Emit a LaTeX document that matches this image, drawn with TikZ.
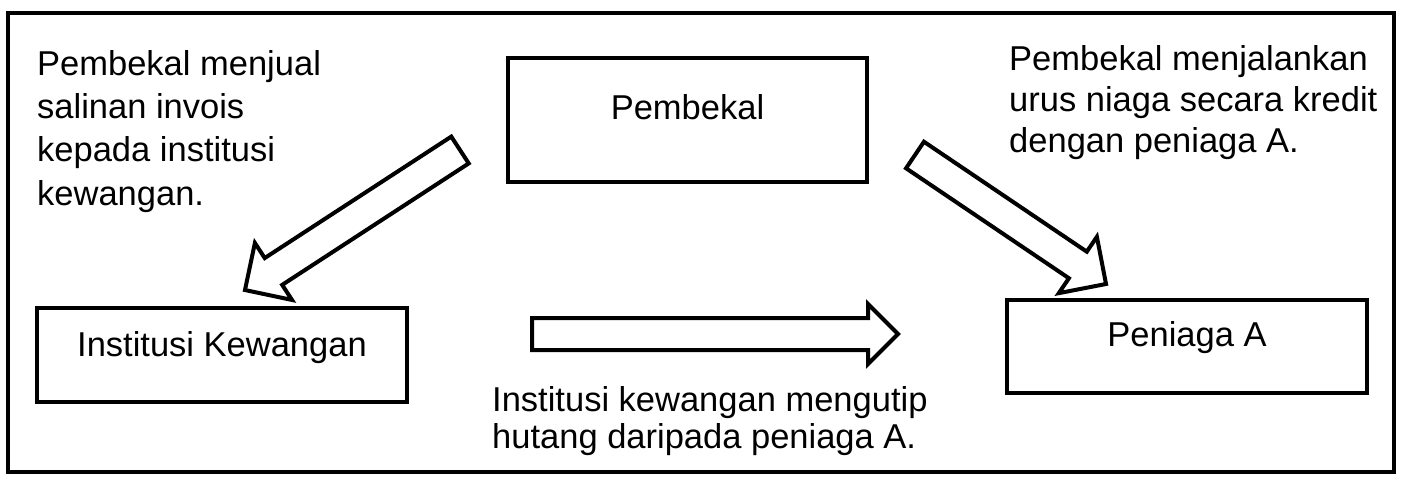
\documentclass[tikz,border=0pt]{standalone}
\usepackage{fontspec}
\setmainfont{Liberation Sans}
\begin{document}
\begin{tikzpicture}[x=1pt,y=-1pt,line join=miter,
  box/.style={draw,line width=3.5pt,inner xsep=0pt,inner ysep=0pt,anchor=base,
    font=\fontsize{34.5}{41}\selectfont},
  txt/.style={anchor=base west,align=left,inner sep=0pt},
  fat/.style={draw,line width=4pt,fill=white},
  pics/fatarrow/.style args={#1/#2}{code={
    \draw[fat] (0,16)--(#1-#2,16)--(#1-#2,#2)--(#1,0)--(#1-#2,-#2)--(#1-#2,-16)--(0,-16)--cycle;}}]
\useasboundingbox (0,0) rectangle (1405,477);
\draw[line width=3.8pt] (8,13) rectangle (1394,472);
% boxes
\node[box,minimum width=359pt,text height=61pt,text depth=63pt] (pem) at (687.5,119) {Pembekal};
\node[box,minimum width=370pt,text height=48.7pt,text depth=45.3pt] (ins) at (222,356.7) {Institusi Kewangan};
\node[box,minimum width=360pt,text height=46pt,text depth=47pt] (pen) at (1187,346) {Peniaga A};
% arrows
\coordinate (tailL) at (460,150);
\coordinate (tailR) at (915,155);
\coordinate (tailH) at (532,334);
\pic[rotate=213.07] at (tailL) {fatarrow=256.6/34};
\pic[rotate=-34.03] at (tailR) {fatarrow=230.5/34};
\pic at (tailH) {fatarrow=366/30};
% texts (anchor at baseline of last line)
\node[txt,font=\fontsize{34.5}{43.3}\selectfont] (t1) at (37,205)
  {Pembekal menjual\\salinan invois\\kepada institusi\\kewangan.};
\node[txt,font=\fontsize{34.5}{41}\selectfont] (t2) at (1009,152)
  {Pembekal menjalankan\\urus niaga secara kredit\\dengan peniaga A.};
\node[txt,font=\fontsize{34.5}{36.7}\selectfont] (t3) at (492,448)
  {Institusi kewangan mengutip\\hutang daripada peniaga A.};
\end{tikzpicture}
\end{document}
